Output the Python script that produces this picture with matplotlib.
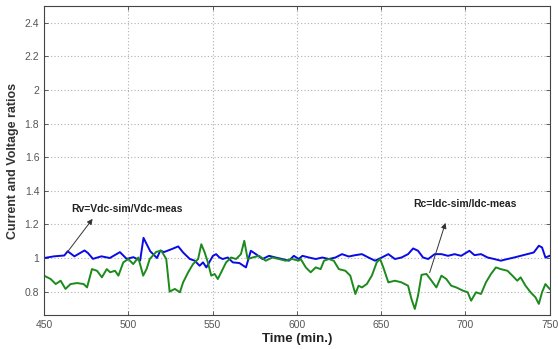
import matplotlib
matplotlib.use("Agg")
import matplotlib.pyplot as plt

plt.rcParams["font.family"] = ["Liberation Sans", "DejaVu Sans"]

# Rv = Vdc-sim / Vdc-meas (blue)
t_rv = [450, 456, 462, 464, 468, 474, 476, 479, 484, 489, 495, 499, 503, 507,
        509, 511, 513, 517, 519, 521, 525, 529.6, 532.5, 536.5, 539.4, 542.3,
        544.3, 546.3, 550.2, 552.1, 554.1, 556, 559, 562, 565.9, 569.8, 572.7,
        575.7, 579.6, 583.5, 587.4, 591.3, 595.3, 598.2, 601.1, 603.3, 607.2,
        611.2, 615.1, 619, 622.9, 626.8, 630.8, 634.7, 638.6, 642.5, 646.4,
        650.4, 654.3, 658.2, 662.1, 666, 669, 671.9, 674.9, 677.9, 681.8,
        685.8, 689.7, 693.6, 697.5, 702.4, 705.4, 709.3, 713.2, 717.1, 721,
        725, 728.9, 732.8, 736.7, 740.6, 743.6, 745.5, 747.5, 750]
rv = [1.00, 1.01, 1.015, 1.04, 1.01, 1.045, 1.03, 0.995, 1.01, 1.00, 1.035,
      0.995, 1.005, 0.985, 1.12, 1.08, 1.04, 1.00, 1.045, 1.035, 1.05, 1.069,
      1.033, 0.994, 0.984, 0.954, 0.974, 0.944, 1.013, 1.023, 1.003, 0.994,
      1.003, 0.974, 0.97, 0.944, 1.043, 1.023, 0.994, 1.013, 1.003, 0.994,
      0.984, 1.013, 0.994, 1.013, 1.003, 0.994, 1.003, 0.994, 1.003, 1.023,
      1.009, 1.017, 1.023, 1.003, 0.984, 1.003, 1.023, 0.994, 1.003, 1.023,
      1.057, 1.043, 1.003, 0.994, 1.023, 1.023, 1.013, 1.023, 1.013, 1.043,
      1.017, 1.023, 1.003, 0.994, 0.984, 0.994, 1.003, 1.013, 1.023, 1.033,
      1.073, 1.063, 1.003, 1.013]

# Rc = Idc-sim / Idc-meas (green)
t_rc = [450, 453.9, 456.9, 459.8, 462.7, 465.7, 469.6, 473.5, 475.5, 478.4,
        481.4, 484.3, 487.2, 489.2, 492.1, 494.1, 497, 500, 502.9, 505.9,
        508.8, 510.8, 512.7, 516.6, 519.6, 522.5, 524.5, 527.6, 530.6, 532.5,
        535.5, 538.4, 541.4, 543.3, 545.3, 547.2, 549.2, 551.2, 553.1, 555.1,
        558, 561, 563.9, 566.8, 568.8, 570.8, 573.7, 577.6, 581.5, 585.5,
        589.4, 593.3, 597.2, 601.1, 602.3, 605.3, 608.2, 611.2, 614.1, 616.1,
        619, 621.9, 624.9, 628.8, 631.7, 634.7, 636.6, 638.6, 641.5, 644.5,
        647.4, 649.4, 651.3, 654.3, 658.2, 662.1, 666, 668, 670, 671.9, 674,
        676.9, 679.9, 682.8, 685.8, 688.7, 691.6, 694.6, 698.5, 701.4, 703.4,
        706.3, 709.3, 712.2, 715.2, 718.1, 721, 725, 727.9, 730.8, 732.8,
        735.7, 738.7, 741.6, 743.6, 745.5, 747.5, 750]
rc = [0.895, 0.875, 0.845, 0.865, 0.816, 0.845, 0.851, 0.845, 0.825, 0.934,
      0.924, 0.885, 0.934, 0.915, 0.924, 0.895, 0.974, 0.994, 0.964, 1.003,
      0.895, 0.934, 0.994, 1.037, 1.043, 0.994, 0.80, 0.816, 0.796, 0.855,
      0.915, 0.964, 0.994, 1.082, 1.033, 0.974, 0.895, 0.905, 0.875, 0.915,
      0.974, 1.003, 0.994, 1.023, 1.102, 0.994, 1.003, 1.013, 0.984, 1.003,
      0.994, 0.984, 0.994, 0.984, 0.994, 0.944, 0.915, 0.944, 0.934, 0.984,
      0.994, 0.984, 0.934, 0.924, 0.895, 0.786, 0.835, 0.825, 0.845, 0.895,
      0.974, 0.994, 0.944, 0.855, 0.865, 0.855, 0.835, 0.756, 0.697, 0.776,
      0.90, 0.905, 0.865, 0.825, 0.895, 0.875, 0.835, 0.825, 0.806, 0.796,
      0.746, 0.796, 0.786, 0.855, 0.905, 0.944, 0.934, 0.924, 0.895, 0.865,
      0.885, 0.835, 0.796, 0.766, 0.727, 0.796, 0.845, 0.816]

x_ticks = [450, 500, 550, 600, 650, 700, 750]
y_ticks = [0.8, 1, 1.2, 1.4, 1.6, 1.8, 2, 2.2, 2.4]
y_tick_labels = ["0.8", "1", "1.2", "1.4", "1.6", "1.8", "2", "2.2", "2.4"]

fig = plt.figure(figsize=(5.58, 3.49), dpi=100)
ax = fig.add_axes([0.079, 0.097, 0.906, 0.886])

ax.plot(t_rv, rv, color="#0a0ae6", linewidth=1.4)
ax.plot(t_rc, rc, color="#1c8a1c", linewidth=1.4)

ax.set_xlim(450, 750)
ax.set_ylim(0.66, 2.5)
ax.set_xticks(x_ticks)
ax.set_yticks(y_ticks)
ax.set_yticklabels(y_tick_labels)
ax.tick_params(direction="in", length=3, labelsize=7.5, labelcolor="#555555",
               top=True, right=True, width=0.6, color="#444444")
ax.grid(True, linestyle=(0, (1, 2)), color="#b0b0b0", linewidth=0.8)
for s in ax.spines.values():
    s.set_color("#444444")
    s.set_linewidth(0.8)

ax.set_xlabel("Time (min.)", fontsize=9.5, fontweight="bold", color="#222222",
              labelpad=2)
ax.set_ylabel("Current and Voltage ratios", fontsize=9, fontweight="bold",
              color="#333333", labelpad=4)

# Flechas y etiquetas
arrow = dict(arrowstyle="-|>", color="#333333", lw=0.7, mutation_scale=8,
             shrinkA=0, shrinkB=0)
ax.annotate("", xy=(478.8, 1.233), xytext=(463.5, 1.031), arrowprops=arrow)
ax.text(499, 1.292, "Rv=Vdc-sim/Vdc-meas", fontsize=7.5, fontweight="bold",
        color="#222222", ha="center", va="center")
ax.annotate("", xy=(688.2, 1.209), xytext=(678.8, 0.913), arrowprops=arrow)
ax.text(700, 1.32, "Rc=Idc-sim/Idc-meas", fontsize=7.5, fontweight="bold",
        color="#222222", ha="center", va="center")

fig.savefig("out.png", dpi=100)
